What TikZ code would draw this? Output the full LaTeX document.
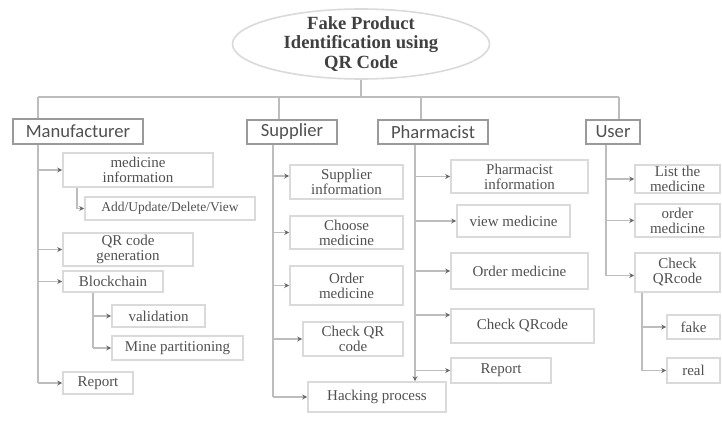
\documentclass[tikz,border=0pt]{standalone}
\usepackage{fontspec}
\setmainfont{Liberation Serif}
\newfontfamily\headfont{Carlito}
\usepackage{tikz}
\usetikzlibrary{shapes.geometric}
\usetikzlibrary{arrows.meta}
\definecolor{linegray}{HTML}{BDBDBD}
\definecolor{headgray}{HTML}{9A9A9A}
\definecolor{leafgray}{HTML}{DADADA}
\definecolor{textgray}{HTML}{505050}

\begin{document}
\begin{tikzpicture}[x=1pt, y=-1pt,
    title/.style={draw=leafgray, line width=1.6pt, ellipse, inner sep=0pt},
    titletext/.style={inner sep=0pt, align=center, font=\bfseries\fontsize{18.6}{19.5}\selectfont, text=black!75},
    head/.style={draw=headgray, line width=2pt, rectangle, inner sep=0pt,
        font=\headfont\fontsize{18.6}{20}\selectfont, text=textgray},
    leaf/.style={draw=leafgray, line width=1.6pt, rectangle, inner sep=0pt, align=center,
        font=\fontsize{15}{15}\selectfont, text=textgray},
    link/.style={draw=linegray, line width=1.8pt},
    tip/.style={link, -{Stealth[length=5pt, width=5pt, color=black!60]}}]
    \useasboundingbox (0,0) rectangle (722,420);

    % Root
    \node[title, minimum width=257pt, minimum height=70pt] (root) at (361,44) {};
    \node[titletext] (rootText) at (root.center) {Fake Product\\Identification using\\QR Code};

    % Actors
    \node[head, minimum width=130pt, minimum height=25pt] (manu) at (78,131.5) {Manufacturer};
    \node[head, minimum width=90pt, minimum height=24pt] (supp) at (292,131.5) {Supplier};
    \node[head, minimum width=110pt, minimum height=24pt] (pharm) at (433,132) {Pharmacist};
    \node[head, minimum width=54pt, minimum height=24pt] (user) at (613,132) {User};

    % Manufacturer
    \node[leaf, minimum width=150pt, minimum height=34pt] (minfo) at (138,170) {medicine\\information};
    \node[leaf, minimum width=170pt, minimum height=23pt, font=\fontsize{13.5}{15}\selectfont] (crud) at (170,208.5) {Add/Update/Delete/View};
    \node[leaf, minimum width=130pt, minimum height=33pt] (qrgen) at (128,249.5) {QR code\\generation};
    \node[leaf, minimum width=100pt, minimum height=21pt] (chain) at (113,281.5) {Blockchain};
    \node[leaf, minimum width=93pt, minimum height=22pt] (valid) at (158.5,316) {validation};
    \node[leaf, minimum width=131pt, minimum height=24pt] (mine) at (177.5,348) {Mine partitioning};
    \node[leaf, minimum width=70pt, minimum height=22pt] (mrep) at (98,383) {Report};

    % Supplier
    \node[leaf, minimum width=113pt, minimum height=34pt] (sinfo) at (346.5,182) {Supplier\\information};
    \node[leaf, minimum width=113pt, minimum height=33pt] (choose) at (346.5,232.5) {Choose\\medicine};
    \node[leaf, minimum width=113pt, minimum height=39pt] (sorder) at (346.5,285.5) {Order\\medicine};
    \node[leaf, minimum width=100pt, minimum height=34pt] (scheck) at (353,339) {Check QR\\code};
    \node[leaf, minimum width=138pt, minimum height=30pt] (hack) at (377,397) {Hacking process};

    % Pharmacist
    \node[leaf, minimum width=137pt, minimum height=33pt] (pinfo) at (519.5,176.5) {Pharmacist\\information};
    \node[leaf, minimum width=113pt, minimum height=32pt] (pview) at (513.5,221) {view medicine};
    \node[leaf, minimum width=137pt, minimum height=36pt] (porder) at (519.5,271) {Order medicine};
    \node[leaf, minimum width=143pt, minimum height=34pt] (pcheck) at (522.5,326) {Check QRcode};
    \node[leaf, minimum width=100pt, minimum height=25pt] (prep) at (501,370.5) {Report};

    % User
    \node[leaf, minimum width=85pt, minimum height=28pt] (ulist) at (677.5,179) {List the\\medicine};
    \node[leaf, minimum width=85pt, minimum height=33pt] (uorder) at (677.5,220.5) {order\\medicine};
    \node[leaf, minimum width=85pt, minimum height=39pt] (ucheck) at (677.5,272.5) {Check\\QRcode};
    \node[leaf, minimum width=53pt, minimum height=24pt] (fake) at (693.5,327) {fake};
    \node[leaf, minimum width=53pt, minimum height=25pt] (real) at (693.5,370.5) {real};

    % Trunk positions
    \coordinate (mTrunk) at (38,97);
    \coordinate (sDrop) at (279,97);
    \coordinate (pDrop) at (421,97);
    \coordinate (uDrop) at (619,97);
    \coordinate (sTrunk) at (273,0);
    \coordinate (pTrunk) at (415,0);
    \coordinate (uTrunk) at (606,0);
    \coordinate (mSub) at (77,0);
    \coordinate (cSub) at (93,0);
    \coordinate (uSub) at (642,0);

    % Root to actors
    \draw[link] (root.south) -- (root.south |- mTrunk);
    \draw[link] (mTrunk) -- (uDrop);
    \draw[link] (mTrunk) -- (manu.north -| mTrunk);
    \draw[link] (sDrop) -- (supp.north -| sDrop);
    \draw[link] (pDrop) -- (pharm.north -| pDrop);
    \draw[link] (uDrop) -- (user.north -| uDrop);

    % Manufacturer connections
    \draw[link] (manu.south -| mTrunk) -- (mrep.west -| mTrunk);
    \foreach \n in {minfo, qrgen, chain, mrep}
        \draw[tip] (\n.west -| mTrunk) -- (\n.west);
    \draw[tip] (minfo.south -| mSub) |- (crud.west);
    \draw[link] (chain.south -| cSub) -- (mine.west -| cSub);
    \foreach \n in {valid, mine}
        \draw[tip] (\n.west -| cSub) -- (\n.west);

    % Supplier connections
    \draw[link] (supp.south -| sTrunk) -- (hack.west -| sTrunk);
    \draw[tip] ([yshift=6pt]sinfo.west -| sTrunk) -- ([yshift=6pt]sinfo.west);
    \foreach \n in {choose, sorder, scheck, hack}
        \draw[tip] (\n.west -| sTrunk) -- (\n.west);

    % Pharmacist connections
    \draw[tip] (pharm.south -| pTrunk) -- (hack.north -| pTrunk);
    \foreach \n in {pinfo, pview, porder, prep}
        \draw[tip] (\n.west -| pTrunk) -- (\n.west);
    \draw[tip] ([yshift=11pt]pcheck.west -| pTrunk) -- ([yshift=11pt]pcheck.west);

    % User connections
    \draw[link] (user.south -| uTrunk) -- ([yshift=-3pt]ucheck.west -| uTrunk);
    \foreach \n in {ulist, uorder}
        \draw[tip] (\n.west -| uTrunk) -- (\n.west);
    \draw[tip] ([yshift=-3pt]ucheck.west -| uTrunk) -- ([yshift=-3pt]ucheck.west);
    \draw[link] (ucheck.south -| uSub) -- (real.west -| uSub);
    \foreach \n in {fake, real}
        \draw[tip] (\n.west -| uSub) -- (\n.west);
\end{tikzpicture}
\end{document}
